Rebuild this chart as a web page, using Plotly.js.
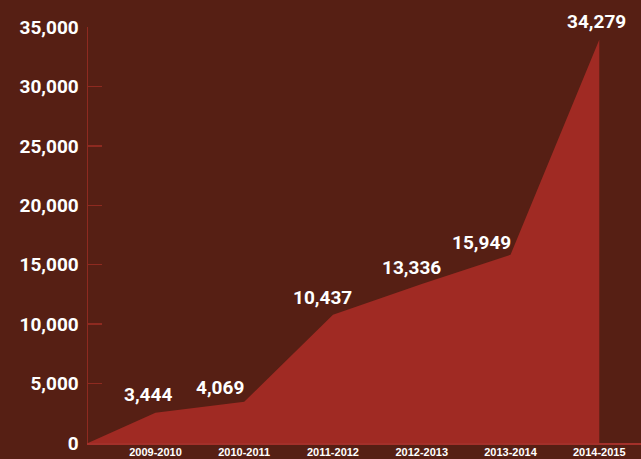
<!DOCTYPE html>
<html>
<head>
<meta charset="utf-8">
<script src="https://cdn.plot.ly/plotly-3.0.1.min.js"></script>
<style>
  html, body { margin: 0; padding: 0; background: #561f14; }
  #chart { width: 641px; height: 459px; }
</style>
</head>
<body>
<div id="chart"></div>
<script>
// Data
const categories = ["2009-2010", "2010-2011", "2011-2012", "2012-2013", "2013-2014", "2014-2015"];
const plottedValues = [2550, 3470, 10790, 13380, 15840, 33930];
const valueLabels = ["3,444", "4,069", "10,437", "13,336", "15,949", "34,279"];
const startValue = 0;
const yTicks = [0, 5000, 10000, 15000, 20000, 25000, 30000, 35000];

// Layout / style config
const xRange = [0.24, 6.47];
const labelXShift = [-7, -24, -10, -10, -29, -3];
const labelYShift = [18, 14, 17, 16, 12, 18];

const catPos = categories.map((c, i) => i + 1);
const xs = [xRange[0]].concat(catPos);
const ys = [startValue].concat(plottedValues);

const trace = {
  type: "scatter",
  mode: "lines",
  x: xs,
  y: ys,
  fill: "tozeroy",
  fillcolor: "#a02a23",
  line: { width: 0, color: "#a02a23" },
  hoverinfo: "skip"
};

const annotations = valueLabels.map((t, i) => ({
  x: catPos[i],
  y: plottedValues[i],
  text: t,
  showarrow: false,
  xanchor: "center",
  yanchor: "middle",
  xshift: labelXShift[i],
  yshift: labelYShift[i],
  font: { family: "Roboto, 'Liberation Sans', Arial, sans-serif", size: 19, color: "#ffffff", weight: 700 }
}));

const layout = {
  width: 641,
  height: 459,
  margin: { l: 88, r: 0, t: 27, b: 16 },
  paper_bgcolor: "#561f14",
  plot_bgcolor: "#561f14",
  showlegend: false,
  xaxis: {
    type: "linear",
    range: xRange,
    tickvals: catPos,
    ticktext: categories,
    showgrid: false,
    zeroline: false,
    showline: true,
    linecolor: "#a4302a",
    linewidth: 2,
    ticks: "",
    ticklabelstandoff: -2,
    tickfont: { family: "'Liberation Sans', Arial, sans-serif", size: 11, color: "#ffffff", weight: 700 },
    fixedrange: true
  },
  yaxis: {
    range: [0, 35000],
    tickvals: yTicks,
    tickformat: ",d",
    showgrid: false,
    zeroline: false,
    showline: true,
    linecolor: "#8e2a20",
    linewidth: 1.5,
    ticks: "inside",
    ticklen: 14,
    tickwidth: 1.5,
    tickcolor: "#8e2a20",
    ticklabelstandoff: 4,
    tickfont: { family: "Roboto, 'Liberation Sans', Arial, sans-serif", size: 19, color: "#ffffff", weight: 700 },
    fixedrange: true
  },
  annotations: annotations
};

Plotly.newPlot("chart", [trace], layout, { displayModeBar: false, staticPlot: true });
</script>
</body>
</html>
